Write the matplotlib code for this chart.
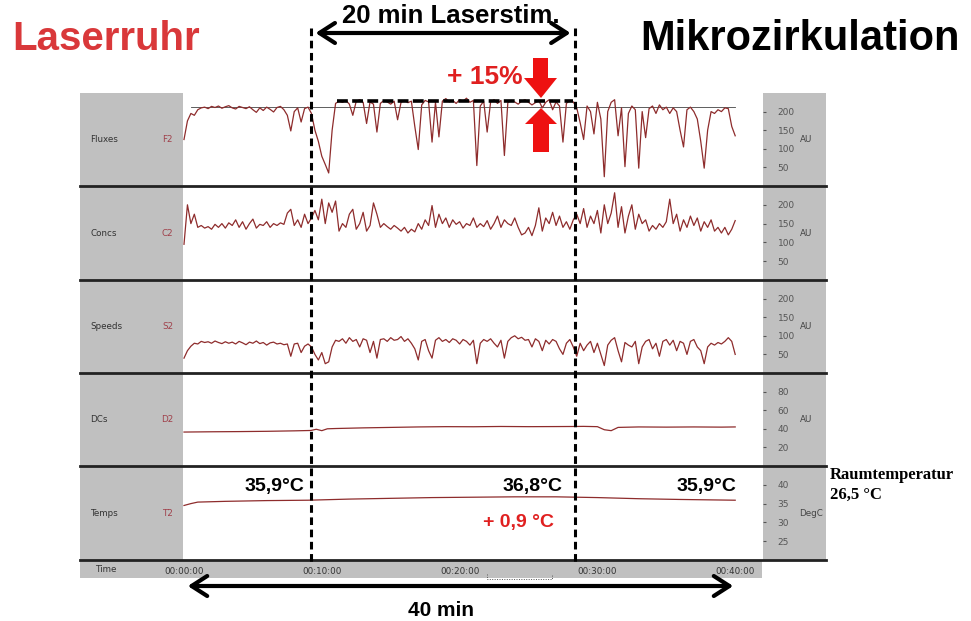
import numpy as np
import matplotlib
matplotlib.use("Agg")
import matplotlib.pyplot as plt
from matplotlib.patches import Rectangle, Polygon, FancyArrowPatch
from matplotlib.lines import Line2D

# ---------------- data ----------------
time_ticks = [0, 10, 20, 30, 40]
time_labels = ["00:00:00", "00:10:00", "00:20:00", "00:30:00", "00:40:00"]
panel_names = ["Fluxes", "Concs", "Speeds", "DCs", "Temps"]
panel_codes = ["F2", "C2", "S2", "D2", "T2"]
panel_units = ["AU", "AU", "AU", "AU", "DegC"]
panel_ticks = [[50, 100, 150, 200], [50, 100, 150, 200], [50, 100, 150, 200],
               [20, 40, 60, 80], [25, 30, 35, 40]]
panel_ylims = [(0, 250), (0, 250), (0, 250), (0, 100), (20, 45)]

t_fast = np.arange(161) * 0.25  # minutes

fluxes = [125, 175, 195, 190, 205, 210, 212, 208, 214, 211,
          215, 209, 213, 216, 210, 207, 214, 211, 208, 213,
          205, 198, 210, 203, 212, 206, 199, 211, 214, 205,
          190, 148, 200, 210, 172, 208, 212, 195, 150, 120,
          80, 58, 35, 150, 222, 228, 225, 230, 220, 190,
          228, 232, 225, 168, 226, 220, 145, 222, 230, 226,
          220, 228, 178, 225, 230, 224, 228, 160, 98, 218,
          230, 226, 118, 225, 132, 228, 235, 226, 230, 222,
          232, 228, 236, 225, 230, 55, 215, 228, 145, 226,
          232, 222, 230, 82, 224, 230, 226, 220, 228, 232,
          225, 218, 224, 230, 210, 225, 232, 205, 226, 215,
          118, 222, 230, 226, 210, 170, 125, 215, 200, 140,
          225, 180, 25, 200, 225, 232, 135, 210, 52, 195,
          215, 205, 48, 200, 130, 208, 215, 195, 218, 205,
          212, 195, 210, 200, 150, 105, 205, 212, 200, 180,
          120, 48, 150, 200, 195, 205, 200, 210, 208, 160, 135]

concs = [95, 200, 150, 175, 140, 145, 138, 142, 135, 148,
         140, 150, 138, 152, 145, 160, 140, 155, 135, 150,
         162, 138, 148, 145, 155, 140, 150, 145, 152, 148,
         178, 188, 145, 160, 140, 175, 150, 165, 185, 160,
         215, 150, 205, 180, 210, 130, 150, 140, 175, 188,
         135, 150, 180, 130, 145, 205, 175, 140, 150, 142,
         135, 145, 138, 130, 140, 125, 135, 128, 150, 135,
         160, 145, 198, 140, 175, 150, 165, 140, 160, 148,
         155, 138, 150, 145, 165, 140, 150, 142, 158, 135,
         150, 170, 140, 160, 150, 145, 165, 140, 120, 125,
         140, 118, 145, 192, 130, 165, 150, 180, 145, 170,
         140, 155, 135, 160, 175, 150, 190, 140, 170, 150,
         185, 125, 200, 150, 178, 232, 140, 195, 125, 170,
         200, 135, 175, 150, 160, 130, 145, 135, 150, 140,
         155, 215, 150, 175, 130, 160, 140, 170, 145, 165,
         130, 155, 140, 160, 130, 140, 125, 140, 120, 135, 158]

speeds = [40, 60, 72, 80, 78, 85, 82, 84, 80, 86,
          82, 79, 84, 80, 83, 78, 85, 81, 76, 83,
          80, 86, 79, 82, 75, 81, 83, 78, 80, 76,
          78, 45, 78, 80, 55, 72, 78, 70, 50, 35,
          55, 25, 30, 70, 88, 85, 92, 80, 95, 85,
          90, 70, 92, 88, 55, 85, 40, 90, 92, 85,
          95, 88, 90, 98, 85, 92, 80, 65, 35, 85,
          90, 60, 40, 88, 95, 85, 90, 82, 92, 88,
          78, 90, 85, 75, 88, 25, 80, 90, 85, 92,
          80, 70, 88, 40, 85, 95, 100, 92, 96, 88,
          90, 70, 92, 85, 60, 88, 78, 90, 85, 65,
          50, 80, 90, 70, 45, 80, 60, 75, 85, 55,
          80, 50, 20, 75, 88, 95, 60, 30, 82, 75,
          70, 85, 25, 70, 85, 90, 65, 80, 45, 85,
          90, 75, 88, 60, 85, 80, 50, 85, 90, 70,
          60, 25, 70, 80, 75, 82, 78, 85, 95, 85, 50]

t_dcs = [0, 2, 4, 6, 8, 9.2, 9.6, 10, 10.4, 11, 13, 15, 17, 19, 21, 23, 25,
         27, 28.4, 29, 30, 30.5, 31, 31.5, 33, 35, 37, 39, 40]
dcs = [36.5, 36.8, 37.0, 37.3, 37.8, 38.2, 39.5, 38.0, 40.0, 40.3, 41.0,
       41.5, 42.0, 42.3, 42.2, 42.5, 42.3, 42.4, 42.5, 42.6, 42.3, 39.0,
       38.0, 41.5, 42.0, 41.8, 42.0, 41.8, 42.0]

t_temps = [0, 0.5, 1, 3, 6, 9, 12, 15, 18, 21, 24, 27, 30, 33, 36, 40]
temps = [34.5, 35.0, 35.4, 35.6, 35.8, 35.9, 36.2, 36.4, 36.6, 36.7, 36.8,
         36.8, 36.6, 36.3, 36.1, 35.9]

stim_start, stim_end = 9.2, 28.4
flux_ref = 212.6
flux_stim_mean = 228.5
stim_mean_span = (11.1, 28.2)

# ---------------- layout ----------------
W, H = 971, 621
fig = plt.figure(figsize=(W / 100, H / 100), dpi=100)
fig.patch.set_facecolor("white")

def fx(x):
    return x / W

def fy(y):
    return 1 - y / H

GRAY = "#c0c0c0"
TRACE = "#8e2c2c"
bounds = [93, 186, 280, 373, 466, 560]
X_L, X_PL, X_PR, X_R = 80, 183, 763, 826

# gray backgrounds (below the axes)
for (x0, y0, x1, y1) in ((X_L, 93, X_PL, 560), (X_PR, 93, X_R, 560), (X_L, 560, 762, 578)):
    fig.patches.append(Rectangle((fx(x0), fy(y1)), fx(x1 - x0), (y1 - y0) / H,
                                 transform=fig.transFigure, facecolor=GRAY,
                                 edgecolor="none", zorder=-5))

xlim = (-1 / 13.78, (X_PR - 184) / 13.78)
series_t = [t_fast, t_fast, t_fast, t_dcs, t_temps]
series_v = [fluxes, concs, speeds, dcs, temps]

axes = []
for k in range(5):
    y0, y1 = bounds[k], bounds[k + 1]
    ax = fig.add_axes([fx(X_PL), fy(y1), fx(X_PR - X_PL), (y1 - y0) / H])
    ax.set_facecolor("white")
    ax.plot(series_t[k], series_v[k], color=TRACE, lw=0.9, zorder=3)
    ax.set_xlim(*xlim)
    ax.set_ylim(*panel_ylims[k])
    for s in ax.spines.values():
        s.set_visible(False)
    ax.yaxis.tick_right()
    ax.set_yticks(panel_ticks[k])
    ax.set_yticklabels([str(v) for v in panel_ticks[k]])
    ax.tick_params(axis="y", direction="out", length=2.5, width=0.8, pad=8,
                   labelsize=6.5, colors="#555555", labelcolor="#555555")
    ax.set_xticks(time_ticks)
    if k < 4:
        ax.tick_params(axis="x", length=0, labelbottom=False)
    else:
        ax.set_xticklabels(time_labels)
        ax.tick_params(axis="x", length=0, pad=5, labelsize=6.3, labelcolor="#333333")
    yc = (y0 + y1) / 2
    fig.text(fx(90), fy(yc), panel_names[k], fontsize=6.3, color="#333333", va="center", ha="left")
    fig.text(fx(173), fy(yc), panel_codes[k], fontsize=6.3, color="#a0404a", va="center", ha="right")
    fig.text(fx(806 if k < 4 else 811), fy(yc), panel_units[k], fontsize=6.3, color="#444444",
             va="center", ha="center")
    axes.append(ax)

# separators
for y in bounds[1:]:
    fig.lines.append(Line2D([fx(X_L), fx(X_R)], [fy(y), fy(y)], transform=fig.transFigure,
                            color="#222222", lw=2.0, zorder=5))

fig.text(fx(95), fy(569), "Time", fontsize=6.3, color="#333333", va="center", ha="left")
# small scrollbar bracket in time bar
fig.lines.append(Line2D([fx(487), fx(487), fx(552), fx(552)], [fy(574), fy(579), fy(579), fy(574)],
                        transform=fig.transFigure, color="#555555", lw=0.7, ls=(0, (1, 1.5))))

# flux reference lines
axf = axes[0]
axf.plot([0.5, 40], [flux_ref, flux_ref], color="#444444", lw=0.6, zorder=2)
axf.plot(list(stim_mean_span), [flux_stim_mean, flux_stim_mean], color="black", lw=2.6,
         ls=(0, (3, 1.2)), zorder=4)

# stimulation dashed verticals (span whole stack)
for tv in (stim_start, stim_end):
    xp = 184 + tv * 13.78
    fig.lines.append(Line2D([fx(xp), fx(xp)], [fy(28), fy(562)], transform=fig.transFigure,
                            color="black", lw=2.2, ls=(0, (2.5, 1.5)), zorder=6))

# double arrows
x_s = 184 + stim_start * 13.78
x_e = 184 + stim_end * 13.78
fig.add_artist(FancyArrowPatch(
    (fx(x_s + 2), fy(33)), (fx(x_e - 2), fy(33)), transform=fig.transFigure,
    arrowstyle="<->,head_length=7,head_width=4.5", color="black", lw=3, mutation_scale=1.6))
fig.add_artist(FancyArrowPatch(
    (fx(185), fy(586)), (fx(736), fy(586)), transform=fig.transFigure,
    arrowstyle="<->,head_length=7,head_width=4.5", color="black", lw=3, mutation_scale=1.6))

# red arrows
down = [(533, 58), (548, 58), (548, 78), (557, 78), (541, 98), (524, 78), (533, 78)]
up = [(541, 108), (557, 124), (549, 124), (549, 152), (533, 152), (533, 124), (525, 124)]
for poly in (down, up):
    fig.patches.append(Polygon([(fx(x), fy(y)) for x, y in poly], closed=True,
                               transform=fig.transFigure, facecolor="#ee1111",
                               edgecolor="none", zorder=7))

RED = "#e02020"
sans = "Liberation Sans"
fig.text(fx(12), fy(50), "Laserruhr", fontsize=29, fontweight="bold", color="#d9383a",
         family=sans, ha="left", va="baseline")
fig.text(fx(960), fy(50), "Mikrozirkulation", fontsize=30, fontweight="bold", color="black",
         family=sans, ha="right", va="baseline")
fig.text(fx(451), fy(23), "20 min Laserstim.", fontsize=18.5, fontweight="bold", color="black",
         family=sans, ha="center", va="baseline")
fig.text(fx(441), fy(616), "40 min", fontsize=15, fontweight="bold", color="black",
         family=sans, ha="center", va="baseline")
fig.text(fx(485), fy(84), "+ 15%", fontsize=19, fontweight="bold", color=RED,
         family=sans, ha="center", va="baseline")
for xc, s in ((274, "35,9°C"), (533, "36,8°C"), (706, "35,9°C")):
    fig.text(fx(xc), fy(491), s, fontsize=14, fontweight="bold", color="black",
             family=sans, ha="center", va="baseline")
fig.text(fx(518), fy(527), "+ 0,9 °C", fontsize=14, fontweight="bold", color=RED,
         family=sans, ha="center", va="baseline")
fig.text(fx(830), fy(479), "Raumtemperatur", fontsize=12, fontweight="bold", color="black",
         family="Liberation Serif", ha="left", va="baseline")
fig.text(fx(830), fy(499), "26,5 °C", fontsize=12, fontweight="bold", color="black",
         family="Liberation Serif", ha="left", va="baseline")

fig.savefig("out.png", dpi=100)
